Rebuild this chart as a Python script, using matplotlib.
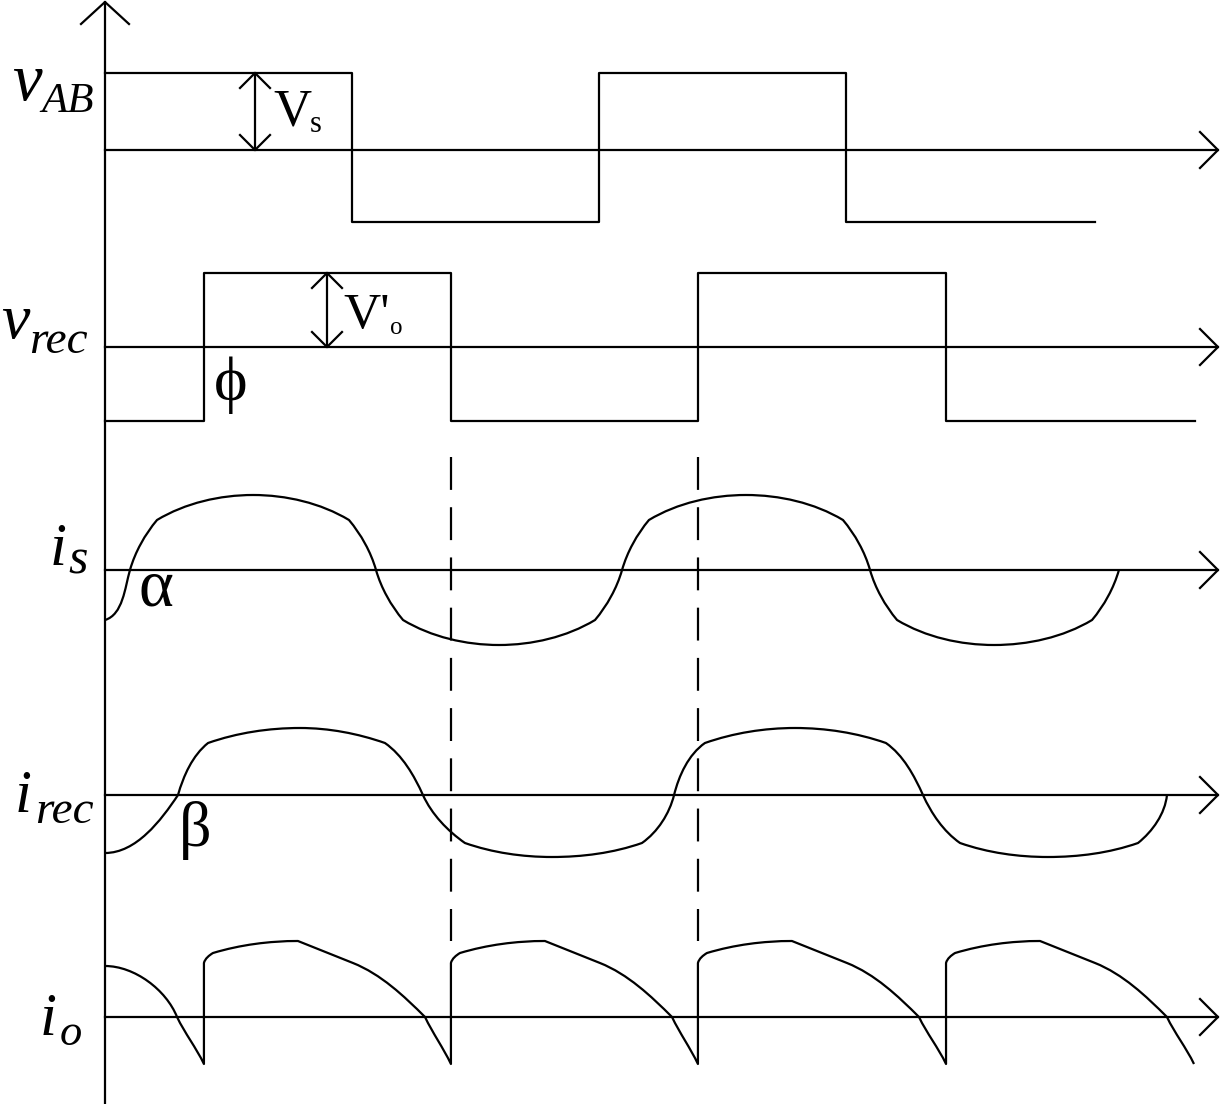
import numpy as np
import matplotlib
matplotlib.use("Agg")
import matplotlib.pyplot as plt
from matplotlib.path import Path
from matplotlib.patches import PathPatch

# time axis in electrical degrees (180 deg = half period of v_AB)
# amplitudes are in drawing units (pixels of the original sketch)

# v_AB: square wave, switching instants and levels
vab_t = [0, 180, 360, 540, 721.5]
vab_v = [77, -72, 77, -72, -72]

# v_rec: shifted by phi
vrec_t = [0, 72.1, 252.1, 432.1, 612.9, 794.3]
vrec_v = [-74, 74, -74, 74, -74, -74]

# i_s anchor points: time, value, slope in, slope out (nan = corner / straight line)
nan = np.nan
is_t = [0, 18.2, 37.9, 107.9, 177.8, 197.5, 217.2, 287.1, 357.1, 376.8,
        396.4, 467.1, 537.8, 557.5, 577.2, 647.9, 719.3, 738.9]
is_v = [-50, 0, 50, 75, 50, 0, -50, -75, -50, 0, 50, 75, 50, 0, -50, -75, -50, 0]
is_sin = [nan, 3.5, 1.2, 0, -0.6, -3.5, -1.2, 0, 0.6, 3.5,
          1.2, 0, -0.6, -3.5, -1.2, 0, 0.6, 3.5]
is_sout = [0.3, 3.5, 0.6, 0, -1.2, -3.5, -0.6, 0, 1.2, 3.5,
           0.6, 0, -1.2, -3.5, -0.6, 0, 1.2, nan]

# i_rec anchor points
irec_t = [0, 53.2, 75.1, 142.1, 204.0, 231.7, 262.3, 325.7, 391.3, 414.7,
          437.2, 502.8, 569.1, 596.1, 623.1, 687.2, 752.8, 773.9]
irec_v = [-58, 0, 52, 67, 52, 0, -48, -62, -48, 0, 52, 67, 52, 0, -48, -62, -48, 0]
irec_sin = [nan, 1.5, 0.8, 0, -0.35, -2.2, -0.7, 0, 0.35, 4,
            0.7, 0, -0.35, -2.2, -0.7, 0, 0.35, 10]
irec_sout = [0, 3.5, 0.35, 0, -0.7, -2.2, -0.35, 0, 0.7, 4,
             0.35, 0, -0.7, -2.2, -0.35, 0, 0.8, nan]

# i_o anchor points (jumps at the v_rec edges)
io_t = [0, 52.5, 72.1, 72.1, 78.7, 140.6, 180.7, 233.2,
        252.1, 252.1, 258.7, 320.6, 360.7, 413.2,
        432.1, 432.1, 438.7, 500.6, 540.7, 593.2,
        612.9, 612.9, 619.5, 681.4, 721.5, 773.9, 793.6]
io_v = [51, 0, -47, 54, 64, 76, 54, 0,
        -47, 54, 64, 76, 54, 0,
        -47, 54, 64, 76, 54, 0,
        -47, 54, 64, 76, 54, 0, -47]
io_sin = [nan, -2.5, -2.1, nan, 0.6, 0, -0.4, -1.0,
          -2.1, nan, 0.6, 0, -0.4, -1.0,
          -2.1, nan, 0.6, 0, -0.4, -1.0,
          -2.1, nan, 0.6, 0, -0.4, -1.0, -2.1]
io_sout = [0, -2.1, nan, 4, 0.3, -0.4, -0.4, -2.1,
           nan, 4, 0.3, -0.4, -0.4, -2.1,
           nan, 4, 0.3, -0.4, -0.4, -2.1,
           nan, 4, 0.3, -0.4, -0.4, -2.1, nan]

dash_t = [252.1, 432.1]

K = 247 / 180.0   # px per degree, so slopes are visual slopes
LW = 1.6

fig = plt.figure(figsize=(12.2, 11.04), dpi=100)
ax = fig.add_axes([0, 0, 1, 1])
ax.set_xlim(-105 / K, (1220 - 105) / K)
ax.set_ylim(0, 1104)
ax.axis("off")


def at(px, py):
    return (px - 105) / K, 1104 - py


base_vab = at(0, 150)[1]
base_vrec = at(0, 347)[1]
base_is = at(0, 570)[1]
base_irec = at(0, 795)[1]
base_io = at(0, 1017)[1]
t_end = at(1218, 0)[0]


def wave(t, v, s_in, s_out, base):
    X = np.array(t) * K
    Y = np.array(v, dtype=float)
    verts = [(t[0], base + v[0])]
    codes = [Path.MOVETO]
    for i in range(len(t) - 1):
        if np.isnan(s_out[i]) or np.isnan(s_in[i + 1]):
            verts.append((t[i + 1], base + v[i + 1]))
            codes.append(Path.LINETO)
            continue
        dx, dy = X[i + 1] - X[i], Y[i + 1] - Y[i]
        L = np.hypot(dx, dy) / 3
        d0 = np.array([1, s_out[i]]) / np.hypot(1, s_out[i])
        d1 = np.array([1, s_in[i + 1]]) / np.hypot(1, s_in[i + 1])
        c1 = (X[i] + L * d0[0], Y[i] + L * d0[1])
        c2 = (X[i + 1] - L * d1[0], Y[i + 1] - L * d1[1])
        verts += [(c1[0] / K, base + c1[1]), (c2[0] / K, base + c2[1]),
                  (t[i + 1], base + v[i + 1])]
        codes += [Path.CURVE4] * 3
    ax.add_patch(PathPatch(Path(verts, codes), fill=False, lw=LW,
                           ec="black", joinstyle="round", capstyle="butt"))


def h_axis(base):
    ax.plot([0, t_end], [base, base], color="black", lw=LW)
    ax.plot([t_end - 18 / K, t_end, t_end - 18 / K],
            [base + 18, base, base - 18], color="black", lw=LW)


def dim_arrow(t, y0, y1):
    ax.plot([t, t], [y0, y1], color="black", lw=LW)
    h = 15 / K
    ax.plot([t - h, t, t + h], [y1 - 15, y1, y1 - 15], color="black", lw=LW)
    ax.plot([t - h, t, t + h], [y0 + 15, y0, y0 + 15], color="black", lw=LW)


# vertical axis with arrow
ax.plot([0, 0], [0, 1102], color="black", lw=LW)
ax.plot([-24 / K, 0, 24 / K], [1080, 1102, 1080], color="black", lw=LW)

for b in [base_vab, base_vrec, base_is, base_irec, base_io]:
    h_axis(b)

# voltages
ax.plot(vab_t, np.array(vab_v) + base_vab, drawstyle="steps-post", color="black", lw=LW)
ax.plot(vrec_t, np.array(vrec_v) + base_vrec, drawstyle="steps-post", color="black", lw=LW)

# currents
wave(is_t, is_v, is_sin, is_sout, base_is)
wave(irec_t, irec_v, irec_sin, irec_sout, base_irec)
wave(io_t, io_v, io_sin, io_sout, base_io)

# dashed markers
for t in dash_t:
    ax.plot([t, t], [at(0, 457)[1], at(0, 941)[1]], color="black", lw=LW,
            dashes=(14.8, 7.8))

# amplitude arrows
dim_arrow(at(255, 0)[0], base_vab, base_vab + vab_v[0])
dim_arrow(at(327, 0)[0], base_vrec, base_vrec + vrec_v[1])

serif = "Liberation Serif"
it = dict(family=serif, style="italic", color="black", va="baseline", ha="left")
up = dict(family=serif, color="black", va="baseline", ha="left")

ax.text(*at(12, 100), "v", fontsize=48, **it)
ax.text(*at(41, 112), "AB", fontsize=31, **it)
ax.text(*at(1, 338), "v", fontsize=46, **it)
ax.text(*at(29, 353), "rec", fontsize=34, **it)
ax.text(*at(50, 565), "i", fontsize=44, **it)
ax.text(*at(68, 573), "s", fontsize=36, **it)
ax.text(*at(15, 812), "i", fontsize=44, **it)
ax.text(*at(35, 823), "rec", fontsize=34, **it)
ax.text(*at(40, 1035), "i", fontsize=44, **it)
ax.text(*at(60, 1045), "o", fontsize=32, **it)

ax.text(*at(273, 125), "V", fontsize=38, **up)
ax.text(*at(310, 132), "s", fontsize=22, **up)
ax.text(*at(343, 328), "V'", fontsize=37, **up)
ax.text(*at(390, 334), "o", fontsize=18, **up)

gr = dict(family=[serif, "DejaVu Serif"], color="black", ha="center", va="center")
ax.text(*at(231, 385), "\u03d5", fontsize=46, **gr)
ax.text(*at(156, 589), "\u03b1", fontsize=48, **gr)
ax.text(*at(195, 830), "\u03b2", fontsize=46, **gr)

fig.savefig("out.png", dpi=100)
